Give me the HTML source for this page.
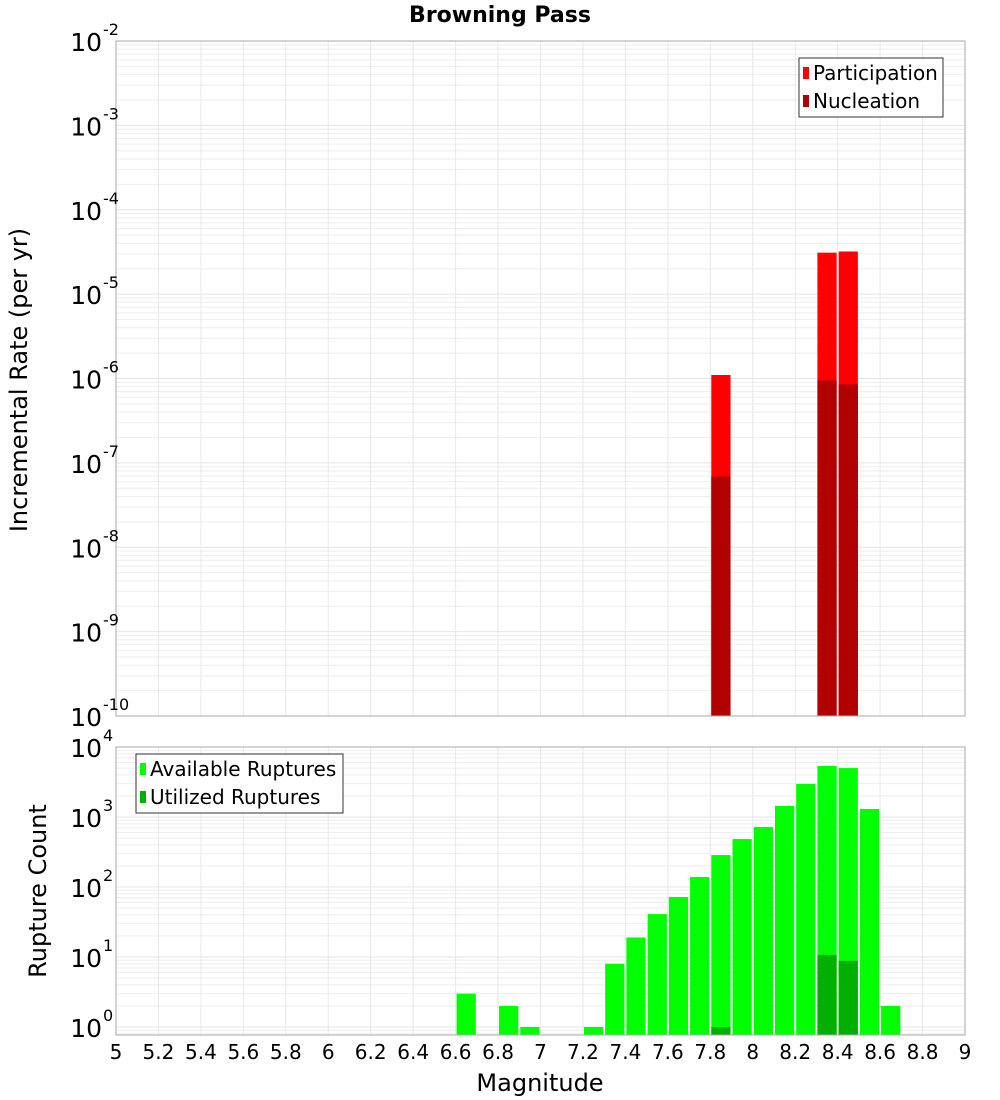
<!DOCTYPE html>
<html><head><meta charset="utf-8"><style>
body{margin:0;background:#fff;}
svg{display:block;font-family:"DejaVu Sans","Liberation Sans",sans-serif;}
</style></head><body>
<svg id="c" width="1000" height="1100" xmlns="http://www.w3.org/2000/svg"></svg>
<script>
const bins = [6.6,6.8,6.9,7.2,7.3,7.4,7.5,7.6,7.7,7.8,7.9,8.0,8.1,8.2,8.3,8.4,8.5,8.6];
const available = [3,2,1,1,8,19,41,72,139,286,484,720,1440,2970,5350,5000,1300,2];
const utilBins = [7.8,8.3,8.4];
const utilized = [1,10.7,8.8];
const rateBins = [7.8,8.3,8.4];
const participation = [1.1e-6,3.1e-5,3.2e-5];
const nucleation = [6.9e-8,9.5e-7,8.5e-7];
const xTicks = [5,5.2,5.4,5.6,5.8,6,6.2,6.4,6.6,6.8,7,7.2,7.4,7.6,7.8,8,8.2,8.4,8.6,8.8,9];
const topExps = [-2,-3,-4,-5,-6,-7,-8,-9,-10];
const botExps = [4,3,2,1,0];

const NS="http://www.w3.org/2000/svg";
const svg=document.getElementById('c');
function el(t,a,p){const e=document.createElementNS(NS,t);for(const k in a)e.setAttribute(k,a[k]);(p||svg).appendChild(e);return e;}
const X0=116,X1=965;
const x=m=>X0+(m-5)/4*(X1-X0);
const T0=41,T1=716;
const yTop=v=>T0+(-2-Math.log10(v))*(T1-T0)/8;
const B0=747,B1=1035,BD=70,B10=1027;
const yBot=v=>B10-BD*Math.log10(v);

function grid(y0,y1,yf,lo,hi,name){
  const g=el('g',{});
  
  
  for(let e=lo;e<hi;e++)for(let k=1;k<10;k++){const y=yf(k*Math.pow(10,e));if(y<y0-0.5||y>y1+0.5)continue;
    el('line',{x1:X0,x2:X1,y1:y,y2:y,stroke:k==1?'#e4e4e4':'#eeeeee','stroke-width':1},g);}
  xTicks.forEach(t=>el('line',{x1:x(t),x2:x(t),y1:y0,y2:y1,stroke:'#e8e8e8','stroke-width':1},g));
}
grid(T0,T1,yTop,-10,-2,'top-grid');
grid(B0,B1,yBot,-1,4,'bottom-grid');

function bar(m,v,yf,base,fill,name){
  const y=yf(v);
  const r=el('rect',{x:x(m)+1,y:y,width:x(m+0.1)-x(m)-2,height:base-y,fill:fill});
  
  
}
rateBins.forEach((m,i)=>bar(m,participation[i],yTop,T1,'#ff0000','participation-bar'));
rateBins.forEach((m,i)=>bar(m,nucleation[i],yTop,T1,'#b00000','nucleation-bar'));
bins.forEach((m,i)=>bar(m,available[i],yBot,B1,'#00ff00','available-bar'));
utilBins.forEach((m,i)=>bar(m,utilized[i],yBot,B1,'#00b000','utilized-bar'));

el('rect',{x:X0,y:T0,width:X1-X0,height:T1-T0,fill:'none',stroke:'#aaa'});
el('rect',{x:X0,y:B0,width:X1-X0,height:B1-B0,fill:'none',stroke:'#aaa'});

function ylab(y,e,name){
  const t=el('text',{x:102,y:y+10,'text-anchor':'end','font-size':25,fill:'#000'});
  t.textContent='10';
  
  
  const s=el('text',{x:103,y:y-6,'font-size':16,fill:'#000'});
  s.textContent=String(e);
}
topExps.forEach(e=>ylab(yTop(Math.pow(10,e)),e,'top-y-tick-label'));
botExps.forEach(e=>ylab(yBot(Math.pow(10,e)),e,'bottom-y-tick-label'));
xTicks.forEach(t=>{const s=el('text',{x:x(t),y:1059,'text-anchor':'middle','font-size':20,fill:'#000'});
  s.textContent=String(t);
  
  });
</script>
<script>
(function(){
const NS="http://www.w3.org/2000/svg",svg=document.getElementById('c');
function el(t,a){const e=document.createElementNS(NS,t);for(const k in a)e.setAttribute(k,a[k]);svg.appendChild(e);return e;}
let t=el('text',{x:500,y:22,'text-anchor':'middle','font-size':22,'font-weight':'bold'});t.textContent='Browning Pass';


t=el('text',{x:540,y:1091,'text-anchor':'middle','font-size':24});t.textContent='Magnitude';


t=el('text',{x:27,y:380,'text-anchor':'middle','font-size':24,transform:'rotate(-90 27 380)'});t.textContent='Incremental Rate (per yr)';


t=el('text',{x:46,y:891,'text-anchor':'middle','font-size':24,transform:'rotate(-90 46 891)'});t.textContent='Rupture Count';


function legend(x,y,w,items,name){
  const r=el('rect',{x:x,y:y,width:w,height:59,fill:'#fff',stroke:'#333','stroke-width':1});
  
  
  items.forEach((it,i)=>{
    el('rect',{x:x+4,y:y+9+i*28,width:6,height:12,fill:it[1]});
    const s=el('text',{x:x+14,y:y+22+i*28,'font-size':20});s.textContent=it[0];
    
    
  });
}
legend(799,58,144,[['Participation','#ff0000'],['Nucleation','#b00000']],'top-legend');
legend(136,754,207,[['Available Ruptures','#00ff00'],['Utilized Ruptures','#00b000']],'bottom-legend');
})();
</script>
</body></html>
